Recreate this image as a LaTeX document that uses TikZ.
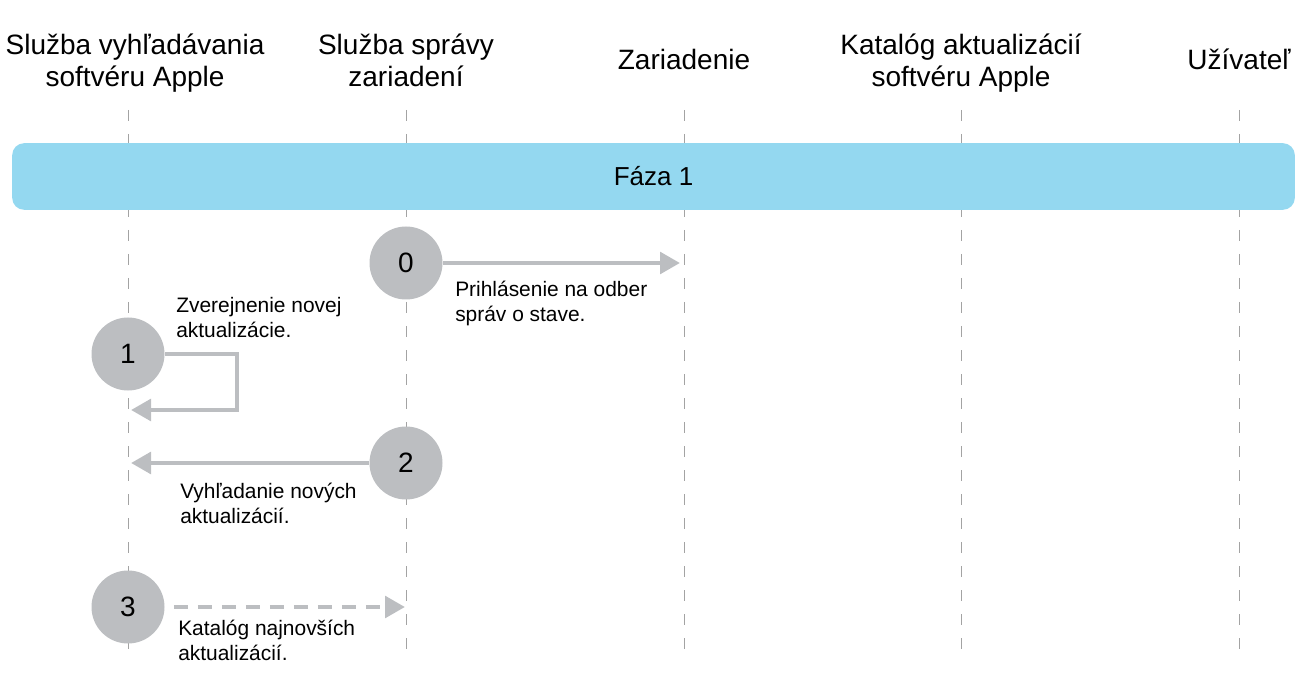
\documentclass[tikz,border=0pt]{standalone}
\usepackage{fontspec}
\setmainfont{Liberation Sans}
\usetikzlibrary{arrows.meta}
\definecolor{phaseblue}{HTML}{94D8F0}
\definecolor{stepgray}{HTML}{BCBEC1}
\definecolor{linegray}{HTML}{A3A3A3}
\begin{document}
\begin{tikzpicture}[x=0.75pt, y=-0.75pt,
    actor/.style={align=center, anchor=base, font=\fontsize{21}{24}\selectfont},
    lifeline/.style={draw=linegray, line width=0.75pt, dash pattern=on 8pt off 10pt},
    phase/.style={fill=phaseblue, rounded corners=9pt, minimum width=962pt, minimum height=50pt, font=\fontsize{19.5}{22}\selectfont},
    stepnum/.style={circle, fill=stepgray, minimum size=54.75pt, inner sep=0pt, font=\fontsize{21}{24}\selectfont},
    msg/.style={draw=stepgray, line width=3.5pt, -{Triangle[length=15pt, width=16pt]}},
    note/.style={align=left, anchor=base west, inner sep=0pt, font=\fontsize{15.7}{18.75}\selectfont}
]
    \useasboundingbox (0,0) rectangle (1303,684);

    % actors (base = last line)
    \node[actor] (search) at (135,87) {Služba vyhľadávania\\softvéru Apple};
    \node[actor] (mdm) at (406,87) {Služba správy\\zariadení};
    \node[actor] (device) at (684,70) {Zariadenie};
    \node[actor] (catalog) at (961,87) {Katalóg aktualizácií\\softvéru Apple};
    \node[actor] (user) at (1239,70) {Užívateľ};

    % lifelines
    \foreach \lx in {128,406,684,961,1239}
        \draw[lifeline] (\lx,110) -- (\lx,655);

    \node[phase] (phase1) at (653.5,176.5) {Fáza 1};

    % steps
    \node[stepnum] (s0) at (406,263) {0};
    \node[stepnum] (s1) at (128,354) {1};
    \node[stepnum] (s2) at (406,463) {2};
    \node[stepnum] (s3) at (128,607) {3};

    \coordinate (s0end) at (680,263);
    \coordinate (s1bend) at (237,410);
    \coordinate (s1end) at (131,410);
    \coordinate (s2end) at (131,463);
    \coordinate (s3end) at (405,607);

    \draw[msg] (s0) -- (s0end);
    \draw[msg] (s1) -| (s1bend) -- (s1end);
    \draw[msg] (s2) -- (s2end);
    \draw[msg, dash pattern=on 10.5pt off 7.5pt, dash phase=11.25pt] (s3) -- (s3end);

    \node[note] (n0) at (455,322) {Prihlásenie na odber\\správ o stave.};
    \node[note] (n1) at (176,338) {Zverejnenie novej\\aktualizácie.};
    \node[note] (n2) at (180,523) {Vyhľadanie nových\\aktualizácií.};
    \node[note] (n3) at (178,660) {Katalóg najnovších\\aktualizácií.};
\end{tikzpicture}
\end{document}
